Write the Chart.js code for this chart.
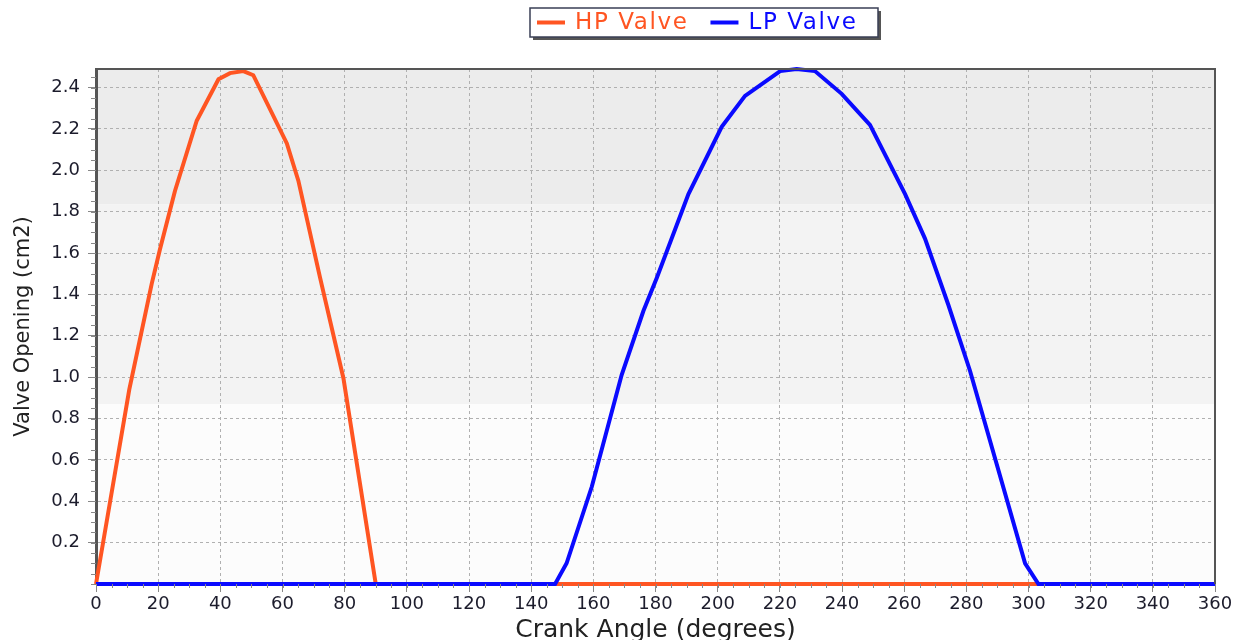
<!DOCTYPE html>
<html><head><meta charset="utf-8">
<script src="https://cdn.jsdelivr.net/npm/chart.js@4.4.1/dist/chart.umd.min.js"></script>
<style>html,body{margin:0;padding:0;background:#fff;}#wrap{width:1242px;height:640px;position:relative;}</style>
</head><body><div id="wrap"><canvas id="c"></canvas></div>
<script>
// ---- data ----
const seriesNames = ['HP Valve', 'LP Valve'];
const seriesColors = ['#ff5522', '#0a0aff'];
const hpAngle   = [0, 10.7, 17.9, 20.6, 25.4, 32.4, 39.4, 43.1, 47.4, 50.6, 61.4, 65.1, 72.1, 79.6, 90, 360];
const hpOpening = [0, 0.94, 1.45, 1.62, 1.90, 2.24, 2.44, 2.47, 2.48, 2.46, 2.13, 1.95, 1.48, 0.995, 0, 0];
const lpAngle   = [0, 147.7, 151.4, 159.5, 169.1, 176.1, 180.4, 190.6, 201.3, 208.8, 220.1, 225.4, 231.3, 239.9, 249.0, 260.3, 266.7, 274.2, 281.2, 298.9, 303.2, 360];
const lpOpening = [0, 0, 0.10, 0.47, 1.01, 1.32, 1.48, 1.885, 2.21, 2.36, 2.48, 2.49, 2.48, 2.37, 2.22, 1.885, 1.67, 1.35, 1.03, 0.10, 0, 0];
const xTicks = [0, 20, 40, 60, 80, 100, 120, 140, 160, 180, 200, 220, 240, 260, 280, 300, 320, 340, 360];
const yTicks = [0.2, 0.4, 0.6, 0.8, 1.0, 1.2, 1.4, 1.6, 1.8, 2.0, 2.2, 2.4];
const xMinorStep = 5;
const yMinorStep = 0.05;
const bandEdges = [1.835, 0.87];
const bandColors = ['#ececec', '#f3f3f3', '#fcfcfc'];
const xTitle = 'Crank Angle (degrees)';
const yTitle = 'Valve Opening (cm2)';

const FONT = '"DejaVu Sans", Verdana, sans-serif';
const toPts = (xs, ys) => xs.map((x, i) => ({x: x, y: ys[i]}));

const bandsPlugin = {
  id: 'bands',
  beforeDraw(chart) {
    const {ctx, chartArea: a, scales: {y}} = chart;
    const edges = [a.top, y.getPixelForValue(bandEdges[0]), y.getPixelForValue(bandEdges[1]), a.bottom];
    ctx.save();
    for (let i = 0; i < 3; i++) {
      ctx.fillStyle = bandColors[i];
      ctx.fillRect(a.left, edges[i], a.right - a.left, edges[i + 1] - edges[i]);
    }
    ctx.restore();
  }
};

const framePlugin = {
  id: 'frame',
  afterDraw(chart) {
    const {ctx, chartArea: a, scales: {x, y}} = chart;
    ctx.save();
    ctx.strokeStyle = '#555';
    ctx.lineWidth = 2;
    ctx.beginPath();
    ctx.moveTo(a.left, a.top); ctx.lineTo(a.right, a.top); ctx.lineTo(a.right, a.bottom);
    ctx.stroke();
    ctx.strokeStyle = '#888';
    ctx.lineWidth = 1;
    ctx.beginPath();
    for (let v = x.min; v <= x.max + 1e-9; v += xMinorStep) {
      const px = Math.round(x.getPixelForValue(v)) + 0.5;
      ctx.moveTo(px, a.bottom); ctx.lineTo(px, a.bottom + 4);
    }
    for (let v = 0; v <= y.max + 1e-9; v += yMinorStep) {
      const py = Math.round(y.getPixelForValue(v)) + 0.5;
      if (py < a.top) continue;
      ctx.moveTo(a.left - 5, py); ctx.lineTo(a.left, py);
    }
    ctx.stroke();
    ctx.restore();
  }
};

const legendPlugin = {
  id: 'boxLegend',
  afterDraw(chart) {
    const ctx = chart.ctx;
    const bx = 530, by = 8, bw = 348, bh = 29;
    ctx.save();
    ctx.fillStyle = '#555';
    ctx.fillRect(bx + 3, by + 3, bw, bh);
    ctx.fillStyle = '#ffffff';
    ctx.fillRect(bx, by, bw, bh);
    ctx.strokeStyle = '#3a3f55';
    ctx.lineWidth = 1.5;
    ctx.strokeRect(bx, by, bw, bh);
    ctx.font = '23px ' + FONT;
    try { ctx.letterSpacing = '1.6px'; } catch (e) {}
    ctx.textBaseline = 'middle';
    let cx = 537;
    const cy = by + bh / 2;
    chart.data.datasets.forEach((ds) => {
      ctx.strokeStyle = ds.borderColor;
      ctx.lineWidth = 4;
      ctx.beginPath(); ctx.moveTo(cx, cy); ctx.lineTo(cx + 28, cy); ctx.stroke();
      ctx.fillStyle = ds.borderColor;
      ctx.fillText(ds.label, cx + 38, cy + 1);
      cx += 38 + ctx.measureText(ds.label).width + 22;
    });
    ctx.restore();
  }
};

const datasets = [
  {label: seriesNames[0], data: toPts(hpAngle, hpOpening), borderColor: seriesColors[0], order: 2},
  {label: seriesNames[1], data: toPts(lpAngle, lpOpening), borderColor: seriesColors[1], order: 1}
].map(d => Object.assign(d, {borderWidth: 4, pointRadius: 0, tension: 0, fill: false, clip: 4}));

new Chart(document.getElementById('c'), {
  type: 'line',
  data: {datasets},
  options: {
    responsive: true,
    maintainAspectRatio: false,
    animation: false,
    devicePixelRatio: 1,
    layout: {padding: {top: 69, right: 27, left: 0, bottom: 0}},
    plugins: {legend: {display: false}, tooltip: {enabled: false}},
    scales: {
      x: {
        type: 'linear', min: 0, max: 360,
        afterBuildTicks: s => { s.ticks = xTicks.map(v => ({value: v})); },
        afterFit: s => { s.height = 56; },
        ticks: {font: {family: FONT, size: 18}, color: '#1c1c2c', padding: 2, maxRotation: 0, autoSkip: false},
        grid: {color: '#b0b0b0', lineWidth: 1, tickLength: 8, tickColor: '#888'},
        border: {color: '#555', width: 2, dash: [3, 3]},
        title: {display: true, text: xTitle, font: {family: FONT, size: 25, lineHeight: 0.8}, color: '#222', padding: {top: 0, bottom: 0}}
      },
      y: {
        type: 'linear', min: 0, max: 2.49,
        afterBuildTicks: s => { s.ticks = yTicks.map(v => ({value: v})); },
        afterFit: s => { s.width = 96; },
        ticks: {font: {family: FONT, size: 18}, color: '#1c1c2c', padding: 8, callback: v => v.toFixed(1)},
        grid: {color: '#b0b0b0', lineWidth: 1, tickLength: 8, tickColor: '#888'},
        border: {color: '#555', width: 3, dash: [3, 3]},
        title: {display: true, text: yTitle, font: {family: FONT, size: 21}, color: '#222', padding: {top: 11, bottom: 0}}
      }
    }
  },
  plugins: [bandsPlugin, framePlugin, legendPlugin]
});
</script></body></html>
